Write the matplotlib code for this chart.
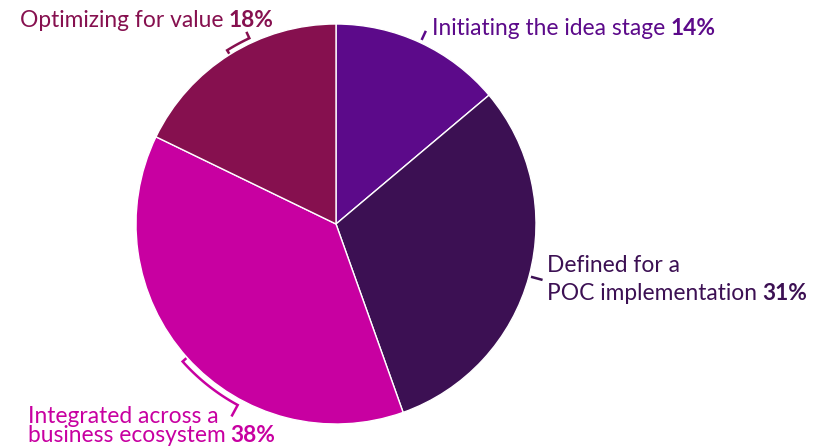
import numpy as np
import matplotlib
matplotlib.use('Agg')
import matplotlib.pyplot as plt

# Chart data
stages  = ['Initiating the idea stage', 'Defined for a\nPOC implementation',
           'Integrated across a\nbusiness ecosystem', 'Optimizing for value']
shares  = [14, 31, 38, 18]
colors  = ['#5c0a8a', '#3c1053', '#c800a1', '#86104f']

W, H = 830, 448
cx, cy, R = 336, 224, 200

plt.rcParams['font.family'] = ['Lato', 'DejaVu Sans']

fig = plt.figure(figsize=(W / 100, H / 100), dpi=100)
ax = fig.add_axes([0, 0, 1, 1])

ax.pie(shares, colors=colors, startangle=90, counterclock=False,
       center=(cx, cy), radius=R,
       wedgeprops=dict(edgecolor='white', linewidth=1))
ax.set_xlim(0, W)
ax.set_ylim(0, H)
ax.set_aspect('equal')
ax.axis('off')

# mid angle of each slice (degrees, math convention, 0..360)
cum = np.cumsum([0] + shares[:-1])
tot = float(sum(shares))
mids = (90 - (cum + np.array(shares) / 2.0) / tot * 360) % 360


def pt(r, a):
  a = np.radians(a)
  return cx + r * np.cos(a), cy + r * np.sin(a)


def radial(a, r0, r1, c):
  x0, y0 = pt(r0, a)
  x1, y1 = pt(r1, a)
  ax.plot([x0, x1], [y0, y1], color=c, lw=1.8, solid_capstyle='butt')


def bracket(a0, a1, r0, ra, r1, c):
  # short tick off the pie, arc along the rim, then tick out to the label
  aa = np.linspace(a0, a1, 40)
  xs = [pt(r0, a0)[0]] + [pt(ra, a)[0] for a in aa] + [pt(r1, a1)[0]]
  ys = [pt(r0, a0)[1]] + [pt(ra, a)[1] for a in aa] + [pt(r1, a1)[1]]
  ax.plot(xs, ys, color=c, lw=1.8, solid_joinstyle='miter',
          solid_capstyle='butt')


radial(mids[0], 203, 213, colors[0])
radial(mids[1], 202, 214, colors[1])
bracket(mids[2], 241.5, 201, 206, 219, colors[2])
bracket(mids[3], 115.0, 201, 205, 212, colors[3])

# labels: (x, baseline y in pixels from top) for each line
label_pos = [
  [(432, 35)],
  [(547, 272), (547, 300)],
  [(28, 423), (28, 442)],
  [(20, 27)],
]

fs = 16.4
for name, pct, c, pos in zip(stages, shares, colors, label_pos):
  lines = name.split('\n')
  t = None
  for line, (x, y) in zip(lines, pos):
    t = ax.text(x, H - y, line, color=c, fontsize=fs, ha='left', va='baseline')
  ax.annotate('%d%%' % pct, xy=(1, 0), xycoords=t, xytext=(3.5, 0),
              textcoords='offset points', ha='left', va='bottom',
              color=c, fontsize=fs, fontweight='bold')

fig.savefig('out.png', dpi=100)
